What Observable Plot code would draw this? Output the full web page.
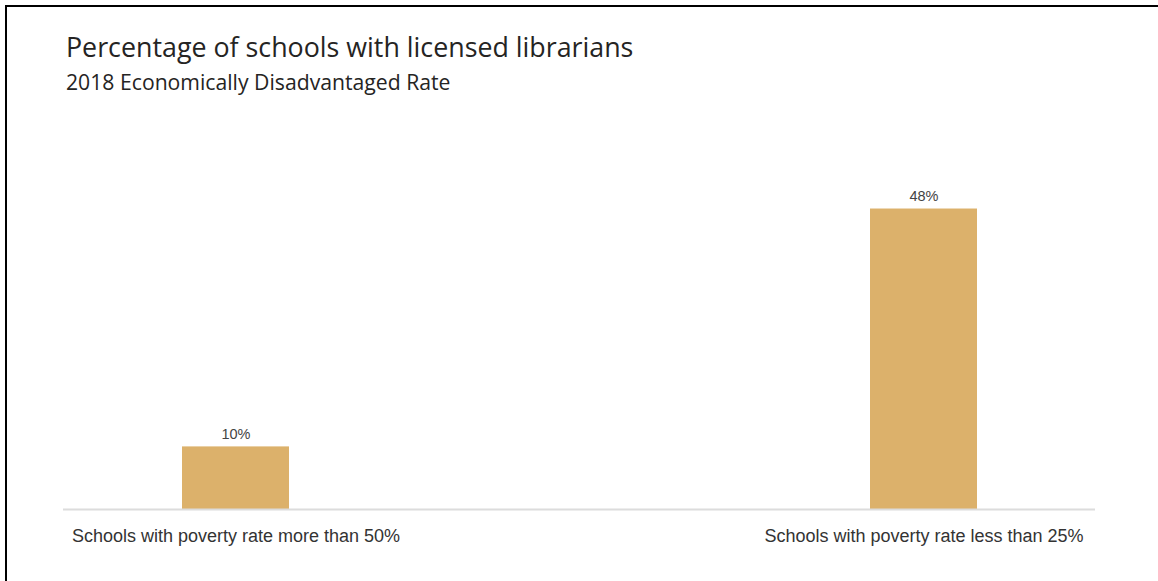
<!DOCTYPE html>
<html>
<head>
<meta charset="utf-8">
<script src="https://cdn.jsdelivr.net/npm/d3@7"></script>
<script src="https://cdn.jsdelivr.net/npm/@observablehq/plot@0.6"></script>
<style>
  html, body { margin: 0; padding: 0; background: #fff; overflow: hidden; }
  #wrap { position: relative; width: 1158px; height: 581px; overflow: hidden; background: #fff; }
  #frame { position: absolute; left: 5px; top: 5px; width: 1200px; height: 600px;
           border-left: 2px solid #000; border-top: 2px solid #000; box-sizing: border-box; }
  #title { position: absolute; left: 66px; top: 34px; font-family: "Open Sans", sans-serif;
           font-size: 26.8px; line-height: 26.8px; color: #252423; white-space: nowrap; }
  #subtitle { position: absolute; left: 66px; top: 71px; font-family: "Open Sans", sans-serif;
              font-size: 21.2px; line-height: 21.2px; color: #252423; white-space: nowrap; }
  #chart { position: absolute; left: 0; top: 100px; }
</style>
</head>
<body>
<div id="wrap">
  <div id="frame"></div>
  <div id="title">Percentage of schools with licensed librarians</div>
  <div id="subtitle">2018 Economically Disadvantaged Rate</div>
  <div id="chart"></div>
</div>
<script>
const categories = ["Schools with poverty rate more than 50%", "Schools with poverty rate less than 25%"];
const values = [10, 48];
const valueLabels = ["10%", "48%"];

const data = categories.map((c, i) => ({category: c, value: values[i], label: valueLabels[i]}));

const chart = Plot.plot({
  width: 1158,
  height: 481,
  marginTop: 96,
  marginBottom: 72,
  marginLeft: 63,
  marginRight: 63,
  style: {background: "transparent", fontFamily: "'Liberation Sans', Arial, sans-serif"},
  x: {domain: categories, paddingInner: 0.845, paddingOuter: 0.172, label: null},
  y: {domain: [0, 50], axis: null},
  marks: [
    Plot.barY(data, {x: "category", y: "value", fill: "#dcb16b"}),
    Plot.ruleY([0], {stroke: "#dcdcdc", strokeWidth: 2}),
    Plot.text(data, {x: "category", y: "value", text: "label", lineAnchor: "bottom", dy: -8,
                     fontSize: 14.5, fill: "#444"}),
    Plot.axisX({tickSize: 0, tickPadding: 20, fontSize: 18, color: "#333", label: null})
  ]
});
document.getElementById("chart").appendChild(chart);
</script>
</body>
</html>
